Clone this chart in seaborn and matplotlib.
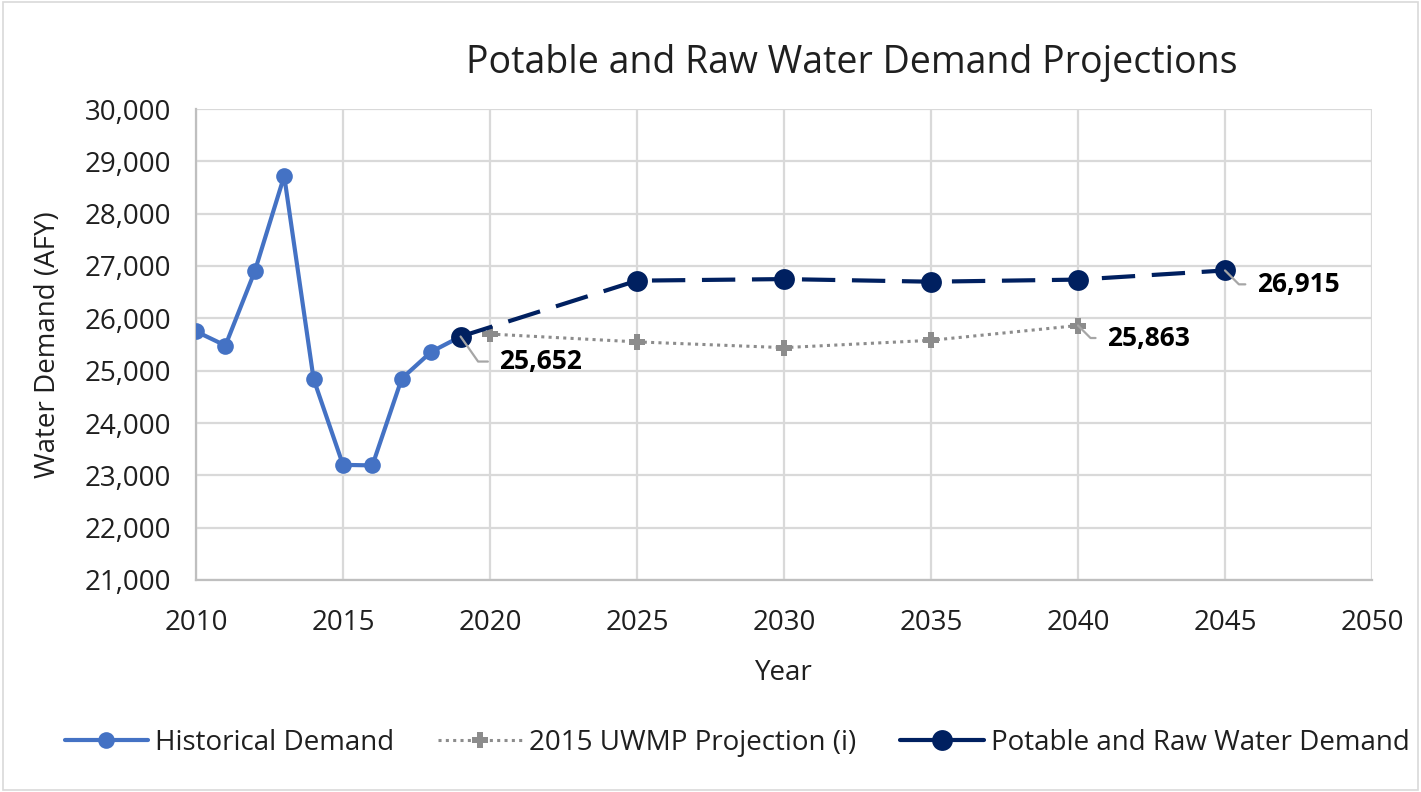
import matplotlib
matplotlib.use('Agg')
import matplotlib.pyplot as plt
from matplotlib.ticker import FuncFormatter, MultipleLocator
from matplotlib.patches import Rectangle
from matplotlib.lines import Line2D
import seaborn as sns
import pandas as pd

# Data
hist_years = [2010, 2011, 2012, 2013, 2014, 2015, 2016, 2017, 2018, 2019]
hist_demand = [25750, 25480, 26900, 28720, 24840, 23200, 23190, 24850, 25360, 25652]

uwmp_years = [2020, 2025, 2030, 2035, 2040]
uwmp_demand = [25700, 25550, 25440, 25580, 25863]

potable_years = [2019, 2025, 2030, 2035, 2040, 2045]
potable_demand = [25652, 26720, 26750, 26700, 26740, 26915]

labels = ["Historical Demand", "2015 UWMP Projection (i)", "Potable and Raw Water Demand"]

hist_color = "#4472C4"
uwmp_color = "#8C8C8C"
potable_color = "#002060"
text_color = "#1F1F1F"

sns.set_theme(style="white")
plt.rcParams['font.family'] = ['Open Sans', 'DejaVu Sans']

fig = plt.figure(figsize=(14.21, 7.92), dpi=100)
ax = fig.add_axes([196 / 1421, 1 - 580 / 792, (1372 - 196) / 1421, (580 - 109) / 792])

# light frame around the whole chart like an Excel chart area
fig.patches.append(Rectangle((0.002, 0.003), 0.996, 0.994, transform=fig.transFigure,
                             fill=False, edgecolor="#D9D9D9", linewidth=1.2))

hist_df = pd.DataFrame({"year": hist_years, "demand": hist_demand})
uwmp_df = pd.DataFrame({"year": uwmp_years, "demand": uwmp_demand})
pot_df = pd.DataFrame({"year": potable_years, "demand": potable_demand})

sns.lineplot(data=hist_df, x="year", y="demand", ax=ax, color=hist_color, linewidth=3.0,
             marker="o", markersize=12, markeredgewidth=0, zorder=3)
sns.lineplot(data=uwmp_df, x="year", y="demand", ax=ax, color=uwmp_color, linewidth=2.2,
             linestyle=(0, (1, 1.4)), marker="P", markersize=11, markeredgewidth=0, zorder=2)
sns.lineplot(data=pot_df, x="year", y="demand", ax=ax, color=potable_color, linewidth=3.0,
             linestyle=(0, (8, 4)), marker="o", markersize=15, markeredgewidth=0, zorder=4)

ax.set_xlim(2010, 2050)
ax.set_ylim(21000, 30000)
ax.xaxis.set_major_locator(MultipleLocator(5))
ax.yaxis.set_major_locator(MultipleLocator(1000))
ax.yaxis.set_major_formatter(FuncFormatter(lambda v, p: f"{int(v):,}"))
ax.grid(True, color="#D9D9D9", linewidth=1.6)
ax.set_axisbelow(True)
for side in ["top", "right"]:
    ax.spines[side].set_visible(False)
for side in ["left", "bottom"]:
    ax.spines[side].set_color("#BFBFBF")
    ax.spines[side].set_linewidth(1.6)
ax.tick_params(axis="both", labelsize=20, colors=text_color, length=0)
ax.tick_params(axis="y", pad=18)
ax.tick_params(axis="x", pad=21)

ax.set_xlabel("Year", fontsize=20, color=text_color, labelpad=16)
ax.set_ylabel("Water Demand (AFY)", fontsize=20, color=text_color, labelpad=16)
fig.text(852 / 1421, 1 - 63 / 792, "Potable and Raw Water Demand Projections",
         fontsize=27, color=text_color, ha="center", va="center")

# data labels with leader lines
def add_label(x, y, text, dx, dy, angle):
    ax.annotate(text, xy=(x, y), xytext=(dx, dy), textcoords="offset points",
                fontsize=19, fontweight="bold", color="black", ha="left", va="center",
                arrowprops=dict(arrowstyle="-", color="#A6A6A6", linewidth=1.6,
                                connectionstyle=f"angle,angleA=0,angleB={angle},rad=0",
                                shrinkA=6, shrinkB=0),
                zorder=5)

add_label(potable_years[0], potable_demand[0], f"{potable_demand[0]:,}", 28, -18, -55)
add_label(uwmp_years[-1], uwmp_demand[-1], f"{uwmp_demand[-1]:,}", 21, -9, -45)
add_label(potable_years[-1], potable_demand[-1], f"{potable_demand[-1]:,}", 23, -10, -45)

handles = [
    Line2D([], [], color=hist_color, linewidth=3.0, marker="o", markersize=12, markeredgewidth=0),
    Line2D([], [], color=uwmp_color, linewidth=2.2, linestyle=(0, (1, 1.4)), marker="P",
           markersize=11, markeredgewidth=0),
    Line2D([], [], color=potable_color, linewidth=3.0, marker="o", markersize=15, markeredgewidth=0),
]
leg = ax.legend(handles, labels, loc="center", bbox_to_anchor=((737 - 196) / 1176, (580 - 743) / 471),
                ncol=3, frameon=False, fontsize=20, handlelength=3.0, columnspacing=1.6,
                handletextpad=0.25)
for t in leg.get_texts():
    t.set_color(text_color)

fig.savefig("out.png", dpi=100)
